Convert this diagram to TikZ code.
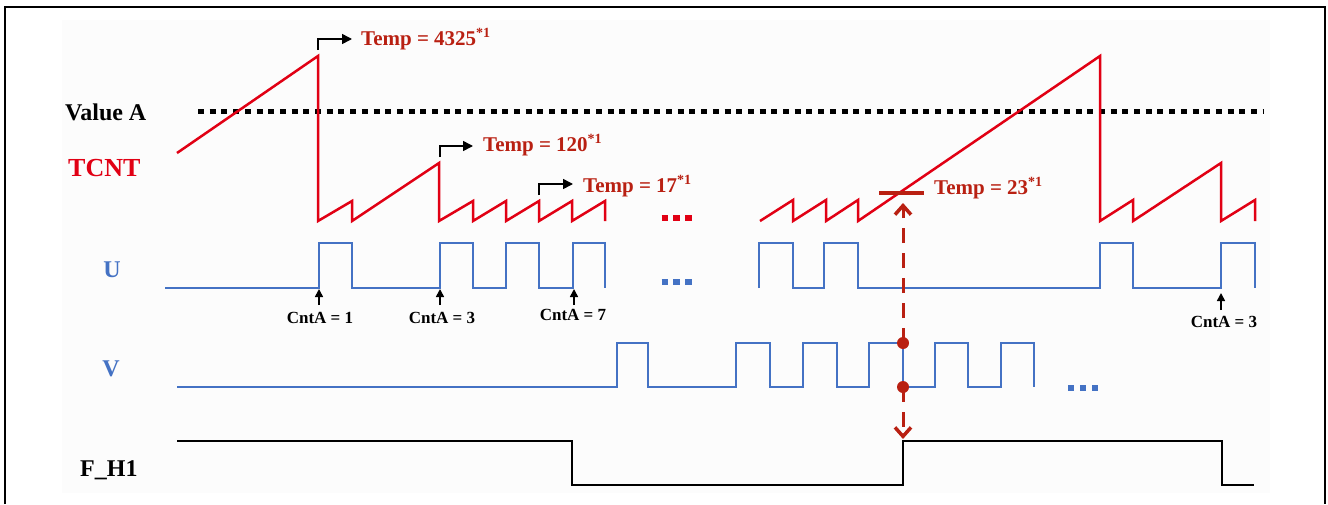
\documentclass[tikz,border=0pt]{standalone}
\usepackage{fontspec}
\setmainfont{Liberation Serif}
\usetikzlibrary{arrows.meta}
\definecolor{sigblue}{RGB}{68,114,196}
\definecolor{tred}{RGB}{225,0,20}
\definecolor{dred}{RGB}{185,32,18}
\newcommand{\starone}{\raisebox{7.5pt}{\fontsize{14}{14}\selectfont *1}}
\begin{document}
\begin{tikzpicture}[x=1pt,y=-1pt,
  sig/.style={sigblue, line width=2.7pt, line join=miter},
  tc/.style={tred, line width=2.5pt, line join=miter},
  fh/.style={black, line width=2.6pt, line join=miter},
  annT/.style={black, line width=1.6pt, -{Triangle[length=10pt,width=10pt]}},
  annC/.style={black, line width=1.6pt, -{Triangle[length=8pt,width=8pt]}},
  lbl/.style={font=\bfseries\fontsize{24}{28}\selectfont, inner sep=0pt, anchor=base west},
  tmp/.style={dred, font=\bfseries\fontsize{21}{24}\selectfont, inner sep=0pt, anchor=base west},
  cnt/.style={black, font=\bfseries\fontsize{17}{20}\selectfont, inner sep=0pt, anchor=base},
  sq/.style={line width=6pt, dash pattern=on 6pt off 5.7pt},
  tempmark/.style={dred, line width=4pt},
  dashedarrow/.style={dred, line width=3pt, dash pattern=on 15pt off 10pt, -{Straight Barb[length=9pt,width=16pt,line width=3.5pt]}},
  ]
\useasboundingbox (0,0) rectangle (1328,504);
\fill[white] (0,0) rectangle (1328,504);
\fill[black!1] (62,20) rectangle (1270,493);
\draw[line width=2.5pt] (5,504) -- (5,7) -- (1325,7) -- (1325,504);

% labels
\node[lbl] (valA) at (65,120) {Value A};
\node[lbl, tred, font=\bfseries\fontsize{26}{30}\selectfont] (tcntl) at (68,176) {TCNT};
\node[lbl, sigblue, anchor=base] (ul) at (112,277) {U};
\node[lbl, sigblue, anchor=base] (vl) at (111,376) {V};
\node[lbl] (fhl) at (80,476) {F\_H1};

% Value A dotted line
\draw[sq, black, line width=5pt] (198,111) -- (1264,111);

% TCNT
\draw[tc] (177,153) -- (318,56) -- (318,221) -- (352,201) -- (352,221) -- (439,163) -- (439,221)
  -- (473,201) -- (473,221) -- (506,201) -- (506,221) -- (539,201) -- (539,221)
  -- (572,201) -- (572,221) -- (605,201) -- (605,221);
\draw[tc] (760,221) -- (793,200) -- (793,221) -- (826,200) -- (826,221) -- (858,200) -- (858,221)
  -- (1100,56) -- (1100,221) -- (1133,200) -- (1133,221) -- (1221,163) -- (1221,221)
  -- (1255,200) -- (1255,221);
\draw[sq, tred, line width=6.5pt, dash pattern=on 6.5pt off 5.2pt] (661.7,218) -- (692,218);

% Temp annotations
\coordinate (a1) at (318,50); \coordinate (a1e) at (352,39);
\draw[annT] (a1) |- (a1e);
\node[tmp] (t1) at (361,45) {Temp = 4325\starone};
\coordinate (a2) at (440,157); \coordinate (a2e) at (473,146);
\draw[annT] (a2) |- (a2e);
\node[tmp] (t2) at (483,151) {Temp = 120\starone};
\coordinate (a3) at (539,195); \coordinate (a3e) at (573,184);
\draw[annT] (a3) |- (a3e);
\node[tmp] (t3) at (583,192) {Temp = 17\starone};
\coordinate (m1) at (879,193); \coordinate (m2) at (924,193);
\draw[tempmark] (m1) -- (m2);
\node[tmp] (t4) at (934,194) {Temp = 23\starone};

% U
\draw[sig] (165,288) -- (319,288) -- (319,243) -- (352,243) -- (352,288) -- (440,288) -- (440,243)
  -- (473,243) -- (473,288) -- (506,288) -- (506,243) -- (539,243) -- (539,288)
  -- (573,288) -- (573,243) -- (605,243) -- (605,288);
\draw[sig] (759,288) -- (759,243) -- (793,243) -- (793,288) -- (824,288) -- (824,243) -- (858,243)
  -- (858,288) -- (1100,288) -- (1100,243) -- (1133,243) -- (1133,288) -- (1221,288)
  -- (1221,243) -- (1255,243) -- (1255,288);
\draw[sq, sigblue, line width=6.5pt, dash pattern=on 6.5pt off 5.2pt] (661.7,282) -- (692,282);

% CntA
\node[cnt] (c1) at (320,323) {CntA = 1};
\node[cnt] (c2) at (442,323) {CntA = 3};
\node[cnt] (c3) at (573,320) {CntA = 7};
\node[cnt] (c4) at (1224,327) {CntA = 3};
\coordinate (u1) at (319,289); \coordinate (u1b) at (319,305);
\coordinate (u2) at (440,289); \coordinate (u2b) at (440,305);
\coordinate (u3) at (574,289); \coordinate (u3b) at (574,305);
\coordinate (u4) at (1221,293); \coordinate (u4b) at (1221,310);
\draw[annC] (u1b) -- (u1);
\draw[annC] (u2b) -- (u2);
\draw[annC] (u3b) -- (u3);
\draw[annC] (u4b) -- (u4);

% V
\draw[sig] (177,387) -- (617,387) -- (617,343) -- (648,343) -- (648,387) -- (736,387) -- (736,343)
  -- (770,343) -- (770,387) -- (803,387) -- (803,343) -- (837,343) -- (837,387)
  -- (869,387) -- (869,343) -- (903,343) -- (903,387) -- (935,387) -- (935,343)
  -- (968,343) -- (968,387) -- (1001,387) -- (1001,343) -- (1034,343) -- (1034,387);
\draw[sq, sigblue, line width=5.5pt, dash pattern=on 5.5pt off 6.5pt] (1068,388) -- (1098.5,388);

% F_H1
\draw[fh] (177,441) -- (572,441) -- (572,485) -- (903,485) -- (903,441) -- (1222,441)
  -- (1222,485) -- (1254,485);

% dashed arrows and dots
\coordinate (d1) at (903,343); \coordinate (d2) at (903,387);
\coordinate (top) at (903,203); \coordinate (bot) at (903,439);
\draw[dashedarrow] (d1) -- (top);
\draw[dashedarrow] (d2) -- (bot);
\fill[dred] (d1) circle (6pt);
\fill[dred] (d2) circle (6pt);
\end{tikzpicture}
\end{document}
